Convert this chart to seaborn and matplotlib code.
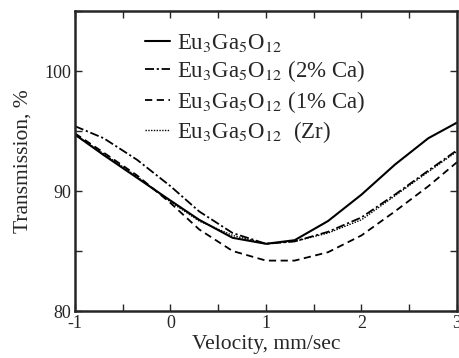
import pandas as pd
import matplotlib
matplotlib.use("Agg")
import matplotlib.pyplot as plt
import seaborn as sns
from matplotlib.ticker import MultipleLocator

# velocity grid (mm/sec) and transmission (%)
velocity = [-1, -0.7, -0.35, 0, 0.3, 0.65, 1.0, 1.3, 1.65, 2.0, 2.35, 2.7, 3.0]
pure = [94.7, 93.0, 91.1, 89.2, 87.6, 86.1, 85.6, 85.9, 87.5, 89.7, 92.2, 94.4, 95.7]
ca2 = [95.4, 94.4, 92.6, 90.4, 88.3, 86.5, 85.6, 85.8, 86.6, 87.8, 89.7, 91.7, 93.4]
ca1 = [94.8, 93.2, 91.3, 89.0, 86.8, 85.0, 84.2, 84.2, 84.9, 86.3, 88.3, 90.4, 92.4]
zr = [94.7, 93.1, 91.2, 89.1, 87.5, 86.3, 85.6, 85.8, 86.5, 87.6, 89.6, 91.6, 93.3]

labels = ["Eu$_3$Ga$_5$O$_{12}$",
          "Eu$_3$Ga$_5$O$_{12}$ (2% Ca)",
          "Eu$_3$Ga$_5$O$_{12}$ (1% Ca)",
          "Eu$_3$Ga$_5$O$_{12}$  (Zr)"]

sns.set_style("ticks")
plt.rcParams['font.family'] = ['Liberation Serif', 'DejaVu Serif']
plt.rcParams['mathtext.fontset'] = 'stix'
plt.rcParams['axes.unicode_minus'] = False

fig = plt.figure(figsize=(4.6, 3.58), dpi=100)
ax = fig.add_axes([75 / 460, 47 / 358, 382 / 460, 300 / 358])

styles = [(None, 1.5), ((5, 1.5, 1.2, 1.5), 1.3), ((4, 2.5), 1.3), ((1, 1), 1.0)]
for vals, lab, (dash, lw) in zip([pure, ca2, ca1, zr], labels, styles):
    df = pd.DataFrame({"v": velocity, "t": vals})
    sns.lineplot(data=df, x="v", y="t", ax=ax, color="black", lw=lw, label=lab)
    if dash is not None:
        ax.lines[-1].set_dashes(dash)

ax.set_xlim(-1, 3)
ax.set_ylim(80, 105)
ax.xaxis.set_major_locator(MultipleLocator(1))
ax.xaxis.set_minor_locator(MultipleLocator(0.5))
ax.yaxis.set_major_locator(MultipleLocator(10))
ax.yaxis.set_minor_locator(MultipleLocator(5))
ax.tick_params(which="both", direction="in", top=True, right=True, width=1, labelsize=13)
ax.tick_params(which="major", length=5, pad=3)
ax.tick_params(which="minor", length=5)
for s in ax.spines.values():
    s.set_linewidth(1.8)

ax.set_xlabel("Velocity, mm/sec", fontsize=15.5, labelpad=2)
ax.set_ylabel("Transmission, %", fontsize=15.5, labelpad=8)

ax.legend(loc="upper left", bbox_to_anchor=(0.147, 0.977), frameon=False, fontsize=16.5,
          handlelength=1.1, handletextpad=0.3, labelspacing=0.2, borderpad=0.1)

fig.savefig("out.png", dpi=100)
